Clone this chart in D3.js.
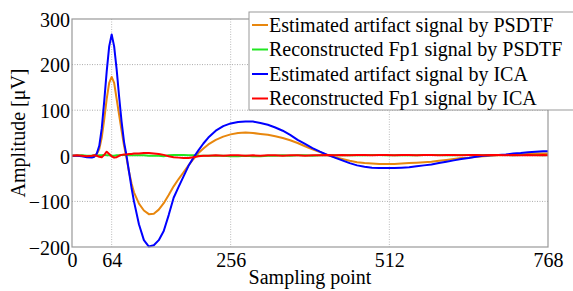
<!DOCTYPE html>
<html>
<head>
<meta charset="utf-8">
<script src="https://cdn.jsdelivr.net/npm/d3@7"></script>
<style>
  body { margin: 0; background: #fff; }
  svg { display: block; }
  text { font-family: "Liberation Serif", "Times New Roman", Times, "DejaVu Serif", serif; }
</style>
</head>
<body>
<svg id="chart" width="573" height="291"></svg>
<script>
// sampling points (shared by all series)
var samples = [0,8,16,24,32,36,40,44,48,52,56,60,64,68,72,76,80,84,88,92,96,100,
  108,116,124,132,140,148,156,164,172,180,188,196,204,212,220,
  232,244,256,268,280,292,304,316,328,340,352,364,376,388,400,412,424,436,448,460,
  472,484,496,508,520,532,544,556,568,580,592,604,616,628,640,652,664,676,688,700,
  712,724,736,748,760,768];

var psdtfArtifact = [0,0,0,-1,-1,
  0,4,15,40,80,125,160,173,160,125,90,55,22,-5,-35,-60,-80,
  -105,-120,-128,-127,-118,-104,-86,-67,-51,-36,-21,-7,6,16,25,
  35,42,47,50,51,50,48,46,43,39,34,28,21,14,8,2,-3,-7,-11,-14,
  -16,-17,-18,-18,-18,-17,-16,-15,-14,-13,-11,-9,-7,-5,-4,-2,-1,0,1,2,
  3,3,4,5,5,5];

var psdtfFp1 = [0,0,1,0,0,
  1,0,1,1,2,1,1,0,0,1,1,2,2,2,1,1,1,
  1,1,0,0,0,-1,1,2,2,2,1,1,0,0,0,
  0,0,-1,-1,0,-1,-1,0,0,1,0,1,1,0,1,1,1,1,2,1,
  1,2,2,1,1,2,1,1,2,2,2,1,1,2,2,2,1,2,2,2,
  1,2,2,2,1,2];

var icaArtifact = [0,0,-1,-3,-4,
  -2,5,22,60,120,185,240,266,240,190,130,75,30,0,-35,-70,-100,
  -150,-185,-199,-196,-185,-165,-130,-92,-68,-45,-22,-4,12,27,40,
  55,65,71,74,75,75,72,68,62,55,46,35,26,17,9,2,-4,-10,-16,-21,
  -24,-26,-27,-27,-27,-26,-25,-23,-21,-19,-16,-13,-10,-7,-5,-2,0,1,2,3,
  5,6,8,9,10,10];

var icaFp1 = [0,1,0,-1,0,
  1,0,-2,-3,2,9,4,-1,-4,-3,0,2,3,3,4,4,5,
  5,6,6,5,4,2,-1,-3,-4,-5,-5,-3,-1,0,0,
  1,0,1,1,0,1,0,1,1,0,1,1,0,1,1,2,1,2,1,2,
  2,1,2,2,1,2,2,1,2,2,1,2,2,1,2,2,1,2,2,1,
  2,1,2,1,2,1];

var seriesNames = ["Estimated artifact signal by PSDTF", "Reconstructed Fp1 signal by PSDTF",
  "Estimated artifact signal by ICA", "Reconstructed Fp1 signal by ICA"];
var seriesColors = ["#e8870e", "#22e622", "#0000ff", "#ff0000"];
var seriesValues = [psdtfArtifact, psdtfFp1, icaArtifact, icaFp1];

var xTicks = [0, 64, 256, 512, 768];
var yTicks = [-200, -100, 0, 100, 200, 300];

var serif = "Liberation Serif, Times New Roman, Times, DejaVu Serif, serif";

var margin = {top: 19, right: 25, bottom: 44, left: 72},
    width = 573 - margin.left - margin.right,
    height = 291 - margin.top - margin.bottom;

var svg = d3.select("#chart").attr("font-family", serif);
var chart = svg.append("g")
    .attr("transform", "translate(" + margin.left + "," + margin.top + ")");

var x = d3.scaleLinear().domain([0, 768]).range([0, width]);
var y = d3.scaleLinear().domain([-200, 300]).range([height, 0]);

// grid
chart.append("g").selectAll("line")
    .data(yTicks.slice(1, -1))
    .enter().append("line")
    .attr("x1", 0).attr("x2", width)
    .attr("y1", function(d) { return y(d); })
    .attr("y2", function(d) { return y(d); })
    .attr("stroke", "#aaa")
    .attr("stroke-dasharray", "1,1.5");

chart.append("g").selectAll("line")
    .data(xTicks.slice(1, -1))
    .enter().append("line")
    .attr("y1", 0).attr("y2", height)
    .attr("x1", function(d) { return x(d); })
    .attr("x2", function(d) { return x(d); })
    .attr("stroke", "#bbb")
    .attr("stroke-dasharray", "1,1.5");

// curves
var line = d3.line()
    .x(function(d, i) { return x(samples[i]); })
    .y(function(d) { return y(d); });

chart.selectAll(".series")
    .data(seriesValues)
    .enter().append("path")
    .attr("class", "series")
    .attr("d", line)
    .attr("fill", "none")
    .attr("stroke", function(d, i) { return seriesColors[i]; })
    .attr("stroke-width", 2)
    .attr("stroke-linejoin", "round");

// axes box
chart.append("rect")
    .attr("width", width)
    .attr("height", height)
    .attr("fill", "none")
    .attr("stroke", "#999")
    .attr("stroke-width", 1.2);

var xAxis = d3.axisBottom(x).tickValues(xTicks).tickSize(0);
var gx = chart.append("g")
    .attr("transform", "translate(0," + height + ")")
    .call(xAxis)
    .attr("font-family", serif)
    .attr("font-size", 20);
gx.select(".domain").remove();
gx.selectAll("text")
    .attr("y", 20).attr("dy", 0)
    .attr("fill", "#000");

var yAxis = d3.axisLeft(y).tickValues(yTicks).tickSize(0).tickPadding(2);
var gy = chart.append("g").call(yAxis)
    .attr("font-family", serif)
    .attr("font-size", 20);
gy.select(".domain").remove();
gy.selectAll("text")
    .attr("dy", "0.36em")
    .attr("fill", "#000");

svg.append("text")
    .text("Sampling point")
    .attr("x", margin.left + width / 2)
    .attr("y", 284)
    .attr("text-anchor", "middle")
    .attr("font-size", 20);

svg.append("text")
    .text("Amplitude [\u03bcV]")
    .attr("text-anchor", "middle")
    .attr("font-size", 20)
    .attr("transform", "translate(25," + (margin.top + height / 2) + ") rotate(-90)");

// legend
var legend = svg.append("g").attr("transform", "translate(249,12)");
legend.append("rect")
    .attr("width", 340).attr("height", 98)
    .attr("fill", "#fff")
    .attr("stroke", "#999");

var item = legend.selectAll(".item")
    .data(seriesNames)
    .enter().append("g")
    .attr("class", "item")
    .attr("transform", function(d, i) { return "translate(0," + (13 + i * 24.5) + ")"; });

item.append("line")
    .attr("x1", 3).attr("x2", 19)
    .attr("stroke", function(d, i) { return seriesColors[i]; })
    .attr("stroke-width", 2);

item.append("text")
    .text(function(d) { return d; })
    .attr("x", 20)
    .attr("y", 6.5)
    .attr("font-size", 20);
</script>
</body>
</html>
